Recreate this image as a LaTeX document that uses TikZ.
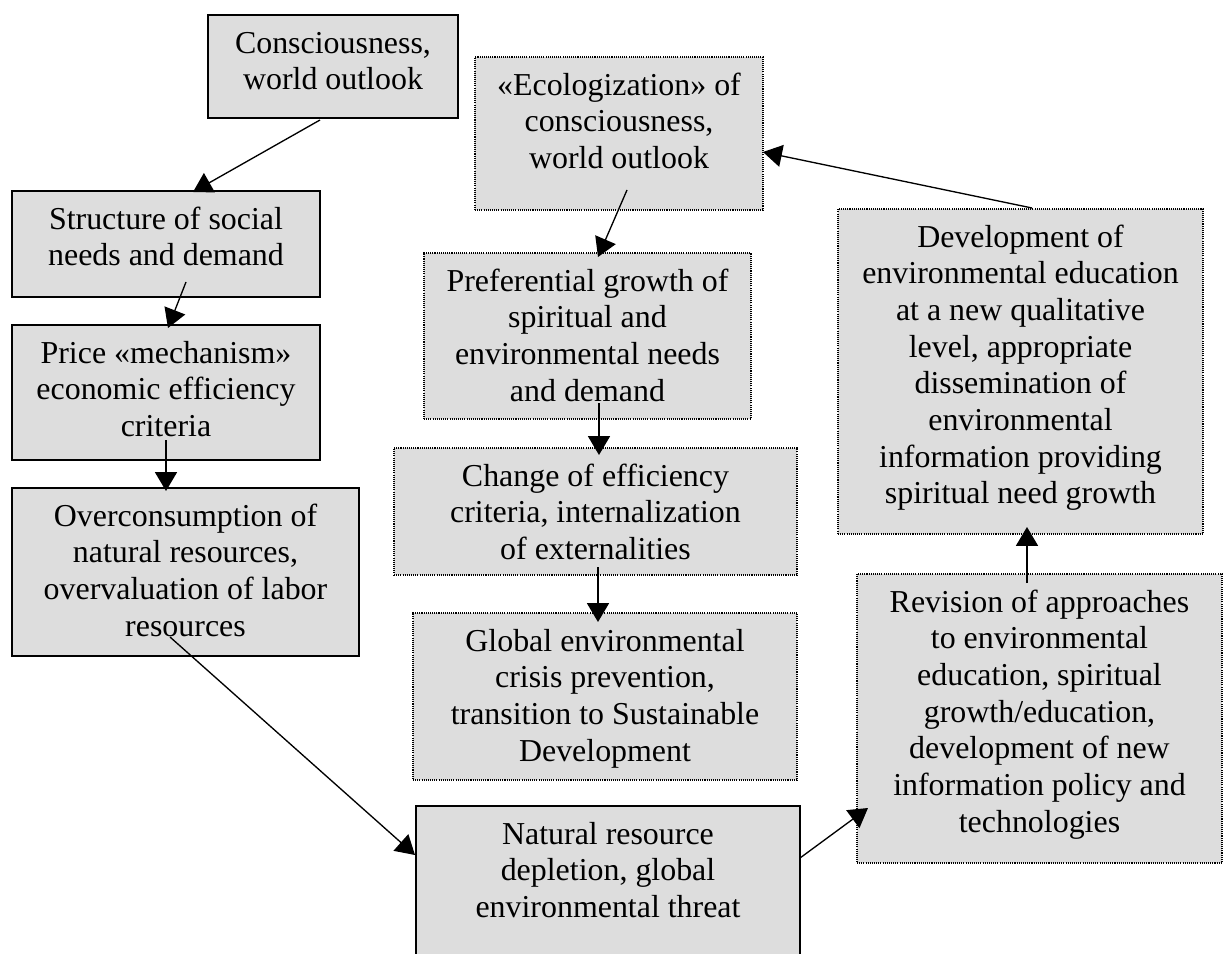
\documentclass[tikz,border=0pt]{standalone}
\usepackage{fontspec}
\setmainfont{Liberation Serif}
\usetikzlibrary{arrows.meta,calc}
\newlength\px \setlength\px{0.376pt}
\definecolor{boxfill}{RGB}{221,221,221}
\newcommand\bxt[3]{\begin{minipage}[c][#2\px][t]{#1\px}\centering\fontsize{12pt}{13.8pt}\selectfont\rule{0pt}{14.3pt}#3\end{minipage}}
\begin{document}
\begin{tikzpicture}[x=0.376pt,y=-0.376pt,
  solidbox/.style={draw=black, line width=0.6pt, fill=boxfill, inner sep=0pt, outer sep=0pt, anchor=north west},
  dotbox/.style={solidbox, line width=0.5pt, dash pattern=on 0.4pt off 0.4pt},
  arr/.style={-{Triangle[length=7.1pt,width=8.3pt]}, line width=0.5pt}]
\path[use as bounding box, fill=white] (0,0) rectangle (1223,954);
\clip (0,0) rectangle (1223,954);
% left column (solid)
\node[solidbox] (A) at (208,15) {\bxt{250}{103}{Consciousness,\\ world outlook}};
\node[solidbox] (B) at (12,191) {\bxt{308}{106}{Structure of social\\ needs and demand}};
\node[solidbox] (C) at (12,325) {\bxt{308}{135}{Price «mechanism»\\ economic efficiency\\ criteria}};
\node[solidbox] (D) at (12,488) {\bxt{347}{168}{Overconsumption of\\ natural resources,\\ overvaluation of labor\\ resources}};
% middle column (dotted)
\node[dotbox] (E) at (475,57) {\bxt{288}{153}{«Ecologization» of\\ consciousness,\\ world outlook}};
\node[dotbox] (F) at (424,253) {\bxt{327}{166}{Preferential growth of\\ spiritual and\\ environmental needs\\ and demand}};
\node[dotbox] (G) at (394,448) {\bxt{403}{127}{Change of efficiency\\ criteria, internalization\\ of externalities}};
\node[dotbox] (H) at (413,613) {\bxt{384}{167}{Global environmental\\ crisis prevention,\\ transition to Sustainable\\ Development}};
\node[solidbox] (I) at (416,806) {\bxt{384}{170}{Natural resource\\ depletion, global\\ environmental threat}};
% right column (dotted)
\node[dotbox] (J) at (838,209) {\bxt{365}{325}{Development of\\ environmental education\\ at a new qualitative\\ level, appropriate\\ dissemination of\\ environmental\\ information providing\\ spiritual need growth}};
\node[dotbox] (K) at (857,574) {\bxt{365}{289}{Revision of approaches\\ to environmental\\ education, spiritual\\ growth/education,\\ development of new\\ information policy and\\ technologies}};
% connectors
\draw[arr] ($(A.north west)+(112,105)$) -- ($(B.north west)+(181,1)$);
\draw[arr] ($(B.north west)+(174,91)$) -- ($(C.north west)+(156,3)$);
\draw[arr] ($(C.north west)+(154,115)$) -- ($(D.north west)+(154,3)$);
\draw[arr] ($(D.north west)+(158,149)$) -- ($(I.north west)+(-1,49)$);
\draw[arr] ($(I.north west)+(384,52)$) -- ($(K.north west)+(11,234)$);
\draw[arr] ($(K.north west)+(170,9)$) -- ($(J.north west)+(189,318)$);
\draw[arr] ($(J.north west)+(194,-1)$) -- ($(E.north west)+(288,95)$);
\draw[arr] ($(E.north west)+(152,133)$) -- ($(F.north west)+(174,4)$);
\draw[arr] ($(F.north west)+(175,150)$) -- ($(G.north west)+(205,7)$);
\draw[arr] ($(G.north west)+(204,119)$) -- ($(H.north west)+(185,9)$);
\end{tikzpicture}
\end{document}
